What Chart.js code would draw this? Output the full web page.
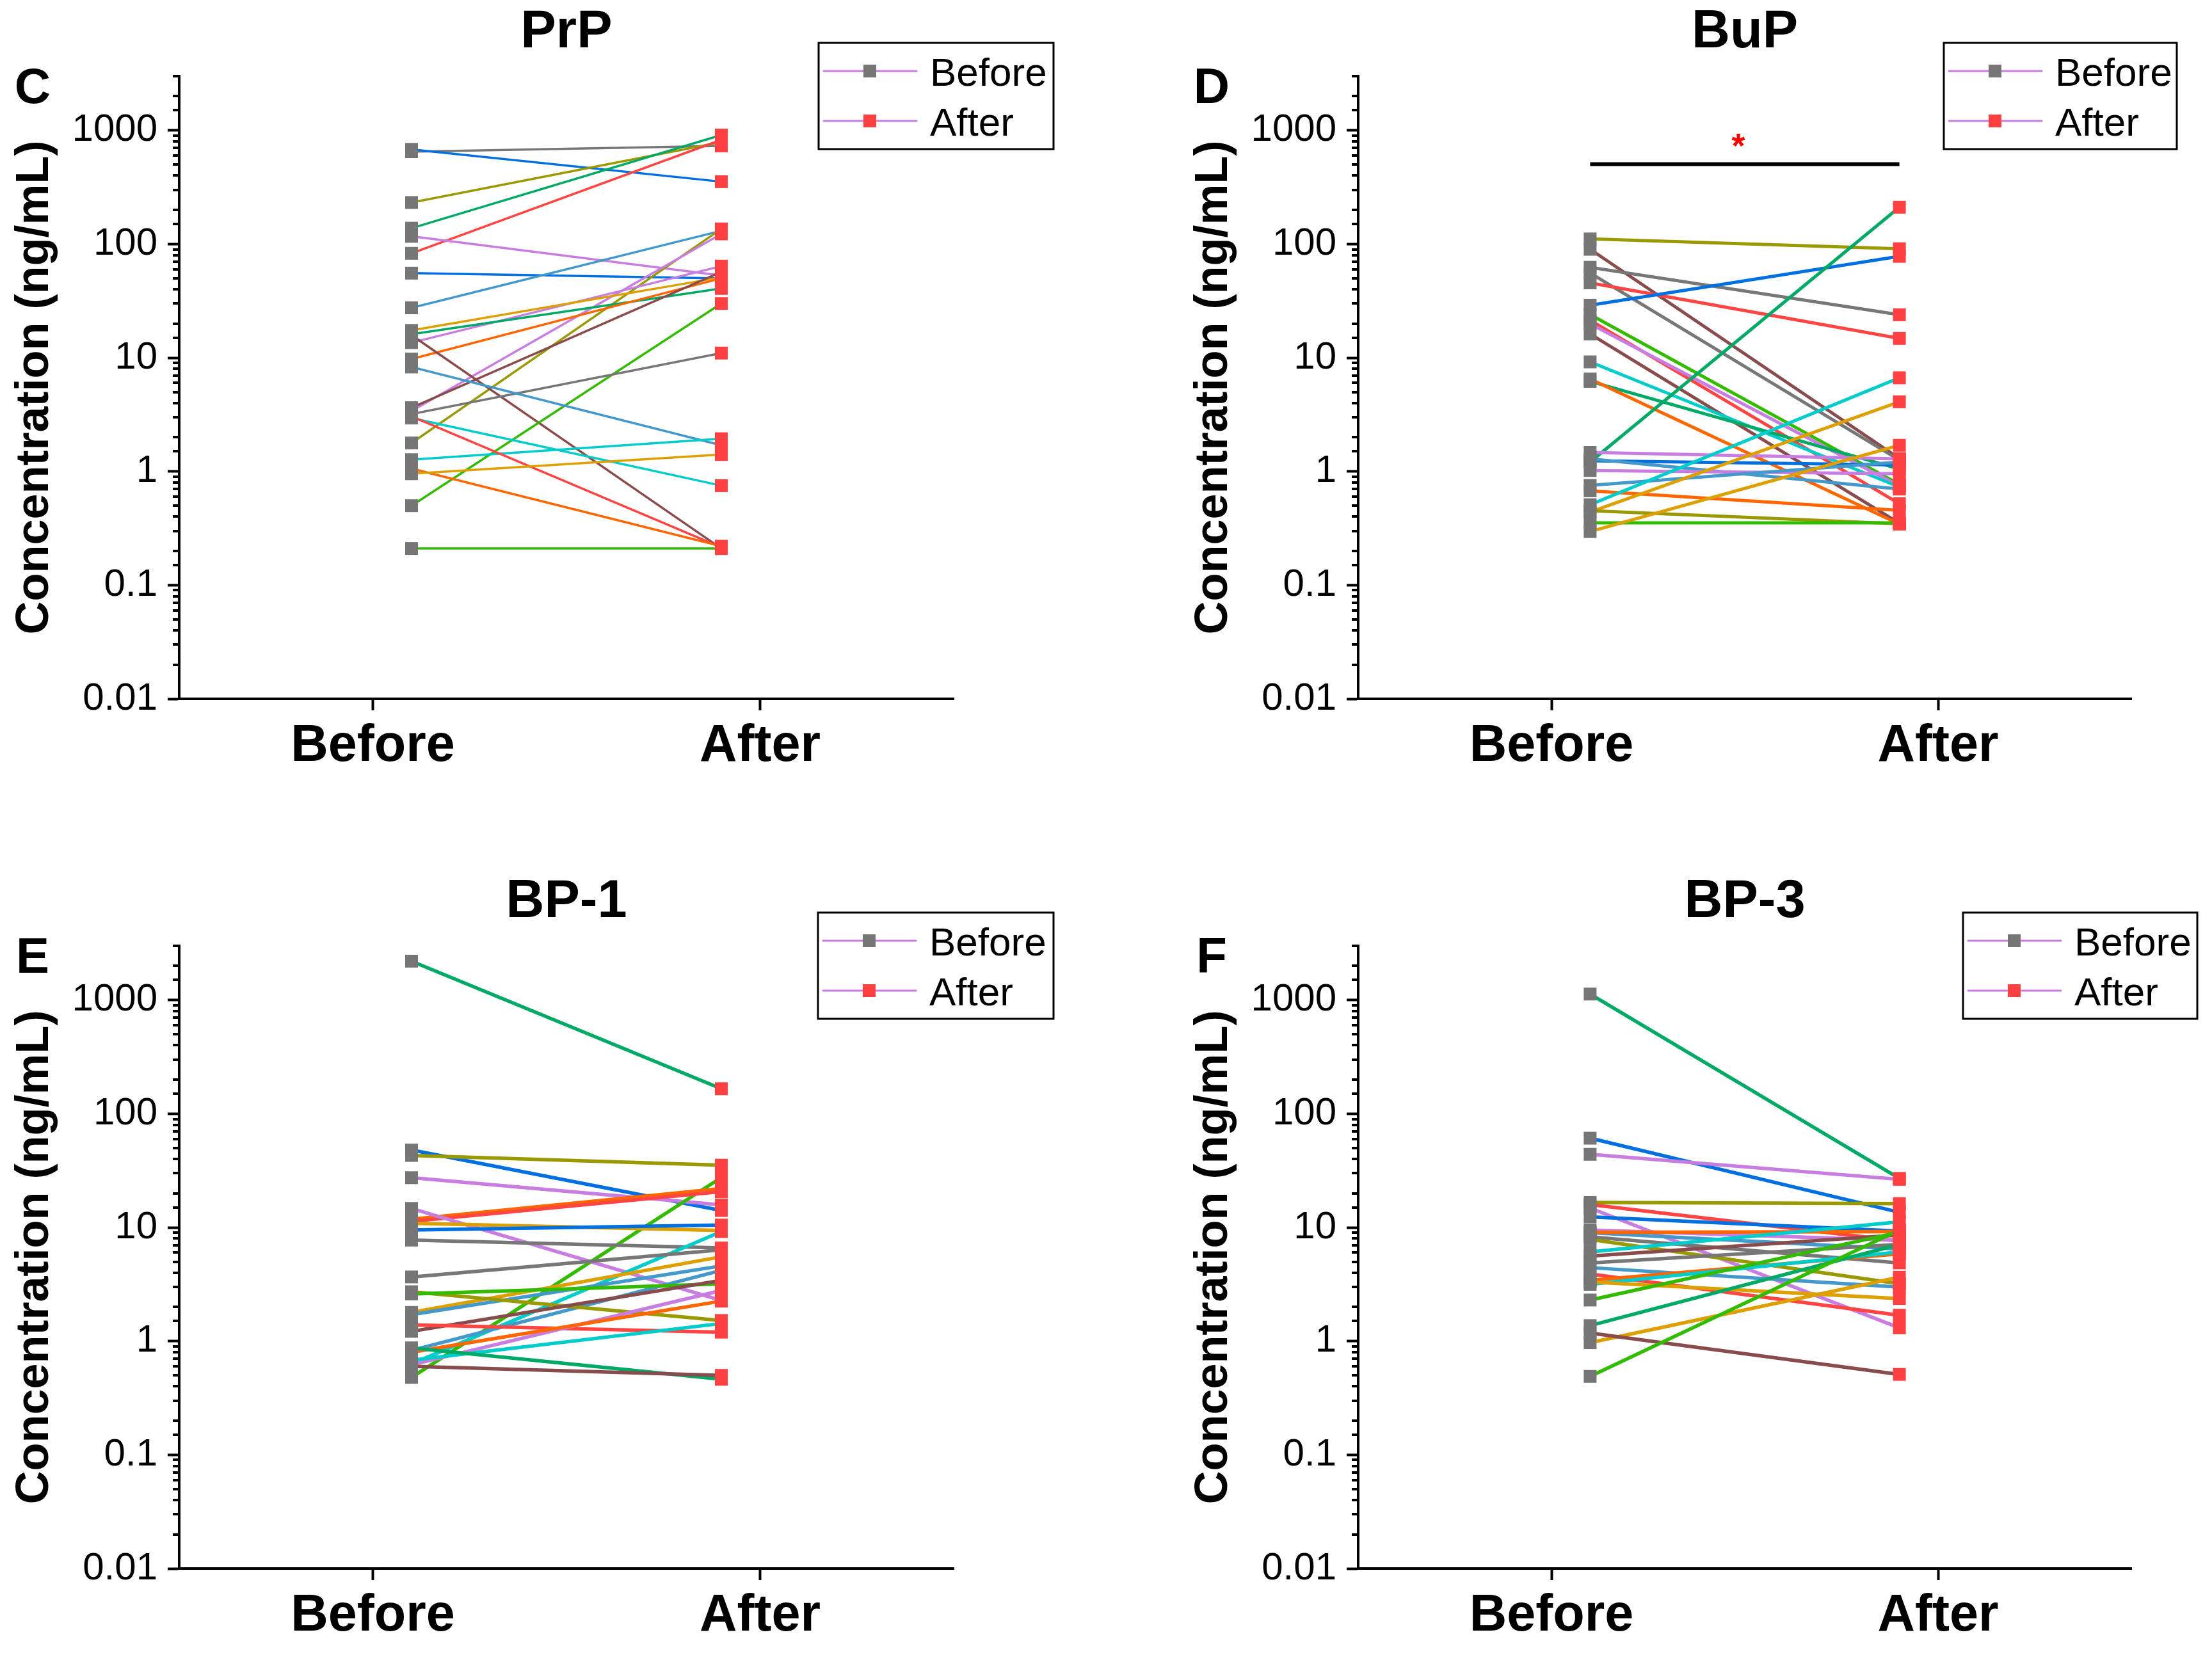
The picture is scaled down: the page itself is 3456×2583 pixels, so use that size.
<!DOCTYPE html>
<html><head><meta charset="utf-8">
<script src="https://cdn.jsdelivr.net/npm/chart.js@4.4.1/dist/chart.umd.min.js"></script>
<style>
html,body{margin:0;padding:0;background:#fff;}
#wrap{position:relative;width:3456px;height:2583px;background:#fff;}
canvas{position:absolute;}
</style></head><body><div id="wrap">
<canvas id="cC" width="1728" height="1291" style="left:0px;top:0px;width:1728px;height:1291px"></canvas>
<canvas id="cD" width="1728" height="1291" style="left:1728px;top:0px;width:1728px;height:1291px"></canvas>
<canvas id="cE" width="1728" height="1292" style="left:0px;top:1291px;width:1728px;height:1292px"></canvas>
<canvas id="cF" width="1728" height="1292" style="left:1728px;top:1291px;width:1728px;height:1292px"></canvas>
</div>
<script>
// ---------------- data ----------------
const categories = ['Before', 'After'];
const categoryValues = [1, 2];
const yTickValues = [0.01, 0.1, 1, 10, 100, 1000];
const yTickLabels = ['0.01', '0.1', '1', '10', '100', '1000'];
const legendLabels = ['Before', 'After'];
const panelTitles = ['PrP', 'BuP', 'BP-1', 'BP-3'];
const panelLetters = ['C', 'D', 'E', 'F'];
const yTitle = 'Concentration (ng/mL)';

const prpBefore = [650, 681, 232, 138, 83, 117, 55.5, 27.5, 1.78, 3.4, 13.6, 17.4, 16.1, 9.75, 3.64, 15.8, 0.5, 3.2, 8.3, 2.95, 1.27, 3.05, 1.06, 0.955, 0.21];
const prpAfter  = [730, 354, 790, 910, 826, 53, 50, 131, 136, 123, 64, 51, 40.7, 50, 57, 0.21, 30, 11, 1.70, 0.75, 1.94, 0.215, 0.22, 1.41, 0.21];

const bupBefore = [111, 90, 62.5, 55.6, 45.6, 29, 24, 21.4, 19.9, 16.2, 9.2, 6.2, 6.5, 1.21, 1.47, 1.24, 1.29, 1.02, 0.753, 0.676, 0.51, 0.44, 0.452, 0.353, 0.296];
const bupAfter  = [91, 1.3, 23.9, 1.26, 14.8, 78, 0.77, 0.52, 0.745, 0.35, 0.73, 1.05, 0.344, 211, 1.29, 1.14, 0.70, 0.955, 1.21, 0.455, 6.66, 4.1, 0.346, 0.353, 1.7];
const bupSigLevel = 505;
const bupSigLabel = '*';

const bp1Before = [2200, 48, 43, 27.4, 0.48, 11.8, 11.3, 14.7, 10.9, 9.5, 7.74, 0.63, 3.67, 1.79, 1.71, 0.83, 2.72, 2.6, 1.22, 1.39, 0.62, 0.80, 0.68, 0.873, 0.60];
const bp1After  = [166, 14.1, 35.3, 15.8, 27.5, 22, 20.7, 2.28, 9.4, 10.5, 6.6, 9.2, 6.35, 5.52, 4.59, 4.19, 1.52, 3.19, 3.42, 1.20, 2.79, 2.25, 1.43, 0.462, 0.50];

const bp3Before = [1130, 61, 44, 16.6, 15.9, 14.8, 12.4, 9.0, 9.5, 9.06, 8.26, 7.85, 6.1, 5.6, 4.88, 4.43, 3.9, 3.42, 3.16, 3.31, 2.3, 1.37, 0.97, 1.18, 0.49];
const bp3After  = [27, 13.6, 26.5, 16.2, 7.6, 1.31, 9.3, 6.46, 7.7, 9.2, 4.88, 3.2, 11.2, 8.6, 7.1, 2.99, 1.69, 5.87, 6.1, 2.37, 9.1, 7.1, 3.65, 0.51, 9.5];

// ---------------- styles ----------------
const COL = {gray:'#777777', blue:'#0070E0', olive:'#999900', green:'#00AA66', red:'#FF4444',
  lilac:'#C87DE0', steel:'#4499CC', gold:'#DDA000', orange:'#FF6600', brown:'#884C4C',
  lime:'#33BB00', cyan:'#00CCCC'};
const prpColors = ['gray','blue','olive','green','red','lilac','blue','steel','olive','lilac','lilac','gold','green','orange','brown','brown','lime','gray','steel','cyan','cyan','red','orange','gold','lime'];
const bupColors = ['olive','brown','gray','gray','red','blue','lime','red','lilac','brown','cyan','green','orange','green','lilac','blue','steel','lilac','steel','orange','cyan','gold','olive','lime','gold'];
const bp1Colors = ['green','blue','olive','lilac','lime','orange','red','lilac','gold','blue','gray','cyan','gray','gold','steel','steel','olive','lime','brown','red','lilac','orange','cyan','green','brown'];
const bp3Colors = ['green','blue','lilac','olive','red','lilac','blue','steel','lilac','orange','gray','olive','cyan','brown','gray','steel','red','orange','cyan','gold','lime','green','gold','brown','lime'];

const BEFORE_X = 1.1, AFTER_X = 1.9;
const MARK_BEFORE = '#767676', MARK_AFTER = '#FF4040', LEGEND_LINE = '#C87DE0';
const FONT = '"Liberation Sans", Arial, Helvetica, sans-serif';

function isPow10(v) { const l = Math.log10(v); return Math.abs(l - Math.round(l)) < 1e-6; }

const decor = {
  id: 'decor',
  afterDraw(chart, args, o) {
    const ctx = chart.ctx, a = chart.chartArea;
    const ys = chart.scales.y, xs = chart.scales.x;
    ctx.save();
    // minor ticks
    ctx.strokeStyle = '#000'; ctx.lineWidth = 4; ctx.lineCap = 'butt';
    ys.ticks.forEach(t => {
      if (!isPow10(t.value)) {
        const y = Math.round(ys.getPixelForValue(t.value));
        ctx.beginPath(); ctx.moveTo(a.left - 10, y); ctx.lineTo(a.left, y); ctx.stroke();
      }
    });
    ctx.fillStyle = '#000'; ctx.textAlign = 'center'; ctx.textBaseline = 'alphabetic';
    ctx.font = 'bold 83px ' + FONT;
    ctx.fillText(o.title, (a.left + a.right) / 2, a.top - 45);
    ctx.font = 'bold 78px ' + FONT;
    ctx.fillText(o.letter, a.left - 229, a.top + 42);
    // legend
    const lx = a.right + o.legendDx, ly = a.top - 52, lw = o.legendW, lh = 166;
    ctx.lineWidth = 3; ctx.strokeStyle = '#000';
    ctx.strokeRect(lx, ly, lw, lh);
    const rows = [ly + 44, ly + 122];
    const marks = [MARK_BEFORE, MARK_AFTER];
    ctx.font = '62px ' + FONT; ctx.textAlign = 'left';
    rows.forEach((y, i) => {
      ctx.strokeStyle = LEGEND_LINE; ctx.lineWidth = 3; ctx.lineCap = 'round';
      ctx.beginPath(); ctx.moveTo(lx + 8, y); ctx.lineTo(lx + 153, y); ctx.stroke();
      ctx.fillStyle = marks[i]; ctx.fillRect(lx + 70, y - 10, 20, 20);
      ctx.fillStyle = '#000'; ctx.fillText(legendLabels[i], lx + 174, y + 23);
    });
    if (o.sig) {
      ctx.fillStyle = '#FF0000'; ctx.textAlign = 'center';
      ctx.font = 'bold 54px ' + FONT;
      ctx.fillText(o.sig.label, xs.getPixelForValue((BEFORE_X + AFTER_X) / 2) - 10, ys.getPixelForValue(o.sig.level) - 10);
    }
    ctx.restore();
  }
};

function makePanel(id, idx, before, after, colors, lw, pad, xh, legendDx, legendW, sig) {
  const datasets = [];
  datasets.push({ data: before.map(v => ({x: BEFORE_X, y: v})), pointStyle: 'rect', pointRadius: 14.15,
    pointBackgroundColor: MARK_BEFORE, pointBorderWidth: 0, showLine: false, order: 0 });
  datasets.push({ data: after.map(v => ({x: AFTER_X, y: v})), pointStyle: 'rect', pointRadius: 14.15,
    pointBackgroundColor: MARK_AFTER, pointBorderWidth: 0, showLine: false, order: 0 });
  if (sig) {
    datasets.push({ data: [{x: BEFORE_X, y: sig.level}, {x: AFTER_X, y: sig.level}], showLine: true,
      borderColor: '#000', borderWidth: 6, pointRadius: 0, order: 1 });
  }
  before.forEach((b, i) => {
    datasets.push({ data: [{x: BEFORE_X, y: b}, {x: AFTER_X, y: after[i]}], showLine: true,
      borderColor: COL[colors[i]], borderWidth: lw, pointRadius: 0, order: 2 + (before.length - i) });
  });
  new Chart(document.getElementById(id), {
    type: 'scatter',
    data: { datasets },
    options: {
      responsive: false, animation: false, devicePixelRatio: 1,
      layout: { padding: pad },
      plugins: { legend: {display: false}, tooltip: {enabled: false},
        decor: { title: panelTitles[idx], letter: panelLetters[idx], legendDx, legendW, sig } },
      scales: {
        x: {
          type: 'linear', min: 0.5, max: 2.5, position: 'bottom',
          afterBuildTicks: s => { s.ticks = categoryValues.map(v => ({value: v})); },
          afterFit: s => { s.height = xh; },
          ticks: { callback: v => categories[categoryValues.indexOf(v)] ?? '', color: '#000',
            font: {family: FONT, size: 81, weight: 'bold'}, padding: 8, maxRotation: 0, autoSkip: false },
          grid: { drawOnChartArea: false, drawTicks: true, tickLength: 18, tickWidth: 4, tickColor: '#000' },
          border: { display: true, width: 4, color: '#000' }
        },
        y: {
          type: 'logarithmic', min: 0.01, max: 3000, position: 'left',
          afterFit: s => { s.width = 280; },
          ticks: { autoSkip: false, color: '#000', padding: 16,
            font: {family: FONT, size: 60},
            callback: v => { if (!isPow10(v)) return ''; const k = yTickValues.findIndex(t => Math.abs(Math.log10(t) - Math.log10(v)) < 1e-6); return k >= 0 ? yTickLabels[k] : ''; } },
          grid: { drawOnChartArea: false, drawTicks: true, tickLength: 18, tickWidth: 4,
            tickColor: c => (c.tick && isPow10(c.tick.value)) ? '#000' : 'rgba(0,0,0,0)' },
          border: { display: true, width: 4, color: '#000' },
          title: { display: true, text: yTitle, color: '#000', padding: {top: 12, bottom: 0},
            font: {family: FONT, size: 72, weight: 'bold'} }
        }
      }
    },
    plugins: [decor]
  });
}

makePanel('cC', 0, prpBefore, prpAfter, prpColors, 3.5, {left: 0, top: 119, right: 238, bottom: 0}, 199, -211, 367, null);
makePanel('cD', 1, bupBefore, bupAfter, bupColors, 5, {left: 114, top: 119, right: 126, bottom: 0}, 199, -293, 364, {level: bupSigLevel, label: bupSigLabel});
makePanel('cE', 2, bp1Before, bp1After, bp1Colors, 5.5, {left: 0, top: 187, right: 238, bottom: 0}, 132, -212, 368, null);
makePanel('cF', 3, bp3Before, bp3After, bp3Colors, 5.5, {left: 114, top: 187, right: 126, bottom: 0}, 132, -263, 366, null);
</script>
</body></html>
